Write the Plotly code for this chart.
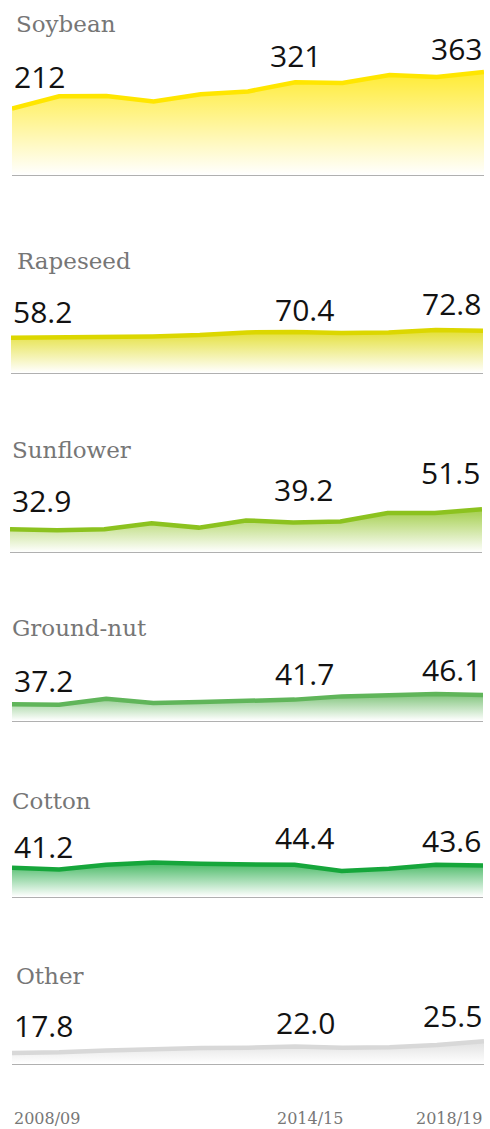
import plotly.graph_objects as go

# ---------------- data ----------------
seasons = ["2008/09", "2009/10", "2010/11", "2011/12", "2012/13", "2013/14",
           "2014/15", "2015/16", "2016/17", "2017/18", "2018/19"]
crops = ["Soybean", "Rapeseed", "Sunflower", "Ground-nut", "Cotton", "Other"]
soybean = [212, 263, 264, 242, 271, 283, 321, 318, 351, 342, 363]
rapeseed = [58.2, 58.9, 59.6, 61.0, 63.8, 69.3, 70.4, 67.9, 69.3, 74.2, 72.8]
sunflower = [32.9, 32.0, 32.9, 38.6, 34.5, 41.2, 39.2, 40.3, 48.0, 48.1, 51.5]
groundnut = [37.2, 36.9, 42.6, 38.5, 39.4, 40.4, 41.7, 44.8, 45.8, 47.0, 46.1]
cotton = [41.2, 39.3, 44.4, 47.0, 45.5, 44.8, 44.4, 37.5, 40.1, 44.6, 43.6]
other = [17.8, 18.2, 19.5, 20.4, 21.1, 21.3, 22.0, 21.3, 21.6, 23.1, 25.5]
series = [soybean, rapeseed, sunflower, groundnut, cotton, other]
label_idx = [0, 6, 10]
tick_labels = ["2008/09", "2014/15", "2018/19"]
decimals = [0, 1, 1, 1, 1, 1]

# ---------------- styles / layout ----------------
W, H = 490, 1129
# baseline px, value->px (a - b*v), x domain px, title (x, baseline px), colour, label offsets px
styles = [
    dict(base=175.0, a=160.2, b=0.243, x0=12, x1=484, tx=14, ty=33.0, color=(255, 230, 0), off=[20, 14, 11], mid_dx=0),
    dict(base=372.7, a=365.6, b=0.479, x0=11, x1=483, tx=15, ty=270.0, color=(220, 215, 0), off=[14, 10, 15], mid_dx=10),
    dict(base=552.3, a=564.7, b=1.075, x0=10, x1=482, tx=10, ty=458.3, color=(140, 194, 31), off=[16, 21, 24], mid_dx=10),
    dict(base=720.7, a=743.2, b=1.045, x0=12, x1=483, tx=10, ty=636.7, color=(96, 181, 90), off=[11, 14, 13], mid_dx=10),
    dict(base=896.7, a=904.8, b=0.90, x0=12, x1=483, tx=10, ty=810.0, color=(22, 166, 59), off=[9, 15, 13], mid_dx=10),
    dict(base=1063.7, a=1080.0, b=1.519, x0=12, x1=484, tx=14, ty=985.0, color=(216, 216, 216), off=[15, 12, 13], mid_dx=10),
]

NUM_FONT = "Open Sans"
SERIF = "DejaVu Serif"

fig = go.Figure()
layout = dict(
    width=W, height=H, margin=dict(l=0, r=0, t=0, b=0),
    paper_bgcolor="white", plot_bgcolor="rgba(0,0,0,0)",
    showlegend=False, hovermode=False,
)
annotations = []

for i, (name, vals, st) in enumerate(zip(crops, series, styles)):
    k = i + 1
    xa, ya = f"x{k}", f"y{k}"
    top_px = st["base"] - 140
    lo = (st["a"] - st["base"]) / st["b"]
    hi = (st["a"] - top_px) / st["b"]
    r, g, b = st["color"]
    line_col = f"rgb({r},{g},{b})"

    fig.add_trace(go.Scatter(x=seasons, y=[lo] * len(seasons), mode="lines",
                             line=dict(width=0), hoverinfo="skip",
                             xaxis=xa, yaxis=ya, showlegend=False))
    fig.add_trace(go.Scatter(
        x=seasons, y=vals, mode="lines", fill="tonexty",
        line=dict(color=line_col, width=4.5),
        fillgradient=dict(type="vertical",
                          colorscale=[[0, f"rgba({r},{g},{b},0)"], [1, f"rgba({r},{g},{b},0.8)"]],
                          start=lo, stop=max(vals)),
        xaxis=xa, yaxis=ya, showlegend=False, hoverinfo="skip"))

    layout[f"xaxis{k}" if k > 1 else "xaxis"] = dict(
        domain=[st["x0"] / W, st["x1"] / W], range=[0, len(seasons) - 1],
        type="category", showgrid=False, zeroline=False, showticklabels=False,
        ticks="", showline=True, linecolor="#b0b0b0", linewidth=1,
        anchor=ya, fixedrange=True)
    layout[f"yaxis{k}" if k > 1 else "yaxis"] = dict(
        domain=[1 - st["base"] / H, 1 - top_px / H], range=[lo, hi],
        showgrid=False, zeroline=False, showticklabels=False, ticks="",
        showline=False, anchor=xa, fixedrange=True)

    # crop title
    annotations.append(dict(
        xref="paper", yref="paper", x=st["tx"] / W, y=1 - (st["ty"] + 6.4) / H,
        xanchor="left", yanchor="bottom", text=name, showarrow=False,
        font=dict(family=SERIF, size=23, color="#767676")))

    # value labels
    for j, idx in enumerate(label_idx):
        v = vals[idx]
        txt = f"{v:.{decimals[i]}f}"
        xanchor = "left" if j == 0 else ("right" if j == len(label_idx) - 1 else "center")
        annotations.append(dict(
            xref=xa, yref=ya, x=seasons[idx], y=v, text=txt, showarrow=False,
            xanchor=xanchor, yanchor="bottom",
            xshift=(st["mid_dx"] if xanchor == "center" else 0),
            yshift=st["off"][j] - 10,
            font=dict(family=NUM_FONT, size=30, color="#121212")))

# x tick labels under last panel
last = len(crops)
for j, idx in enumerate(label_idx):
    xanchor = "left" if j == 0 else ("right" if j == len(label_idx) - 1 else "center")
    annotations.append(dict(
        xref=f"x{last}", yref="paper", x=seasons[idx], y=1 - 1129.8 / H,
        text=tick_labels[j], showarrow=False, xanchor=xanchor, yanchor="bottom",
        xshift=(15 if xanchor == "center" else 0),
        font=dict(family=SERIF, size=16, color="#777777")))

layout["annotations"] = annotations
fig.update_layout(**layout)
fig.write_html(
    "out.html",
    config={"displayModeBar": False, "staticPlot": True},
    post_script="document.body.style.margin='0';document.body.style.padding='0';"
                "document.body.style.overflow='hidden';",
)
